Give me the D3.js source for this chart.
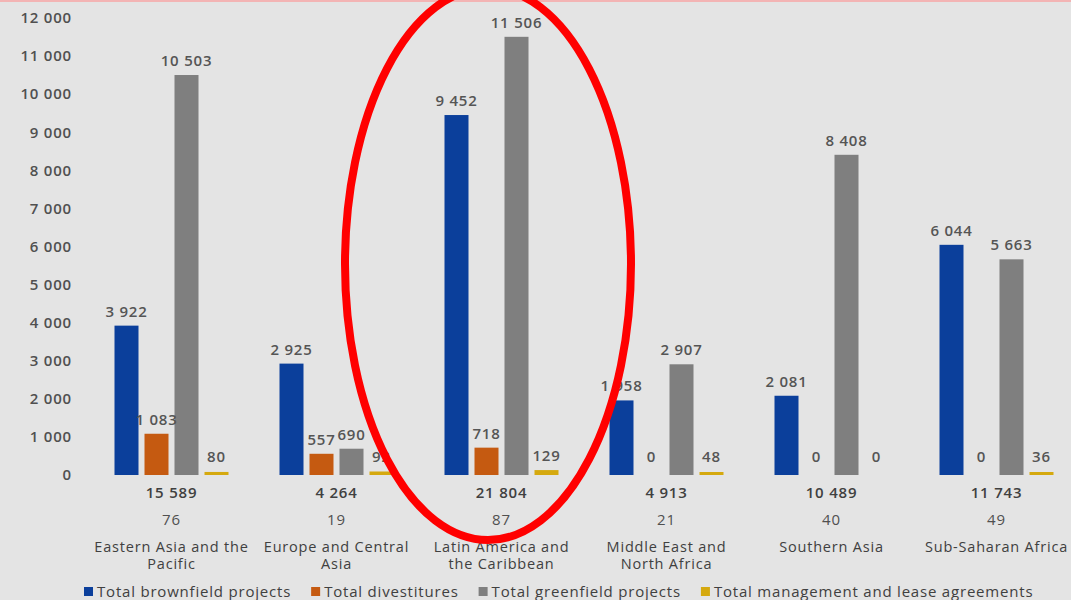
<!DOCTYPE html>
<html>
<head>
<meta charset="utf-8">
<script src="https://cdn.jsdelivr.net/npm/d3@7"></script>
<style>
  html, body { margin: 0; padding: 0; background: #e4e4e4; }
  svg { display: block; font-family: "Open Sans", sans-serif; letter-spacing: 0.8px; }
</style>
</head>
<body>
<div id="chart"></div>
<script>
// Data
const regions = [
  ["Eastern Asia and the", "Pacific"],
  ["Europe and Central", "Asia"],
  ["Latin America and", "the Caribbean"],
  ["Middle East and", "North Africa"],
  ["Southern Asia"],
  ["Sub-Saharan Africa"]
];
const seriesNames = [
  "Total brownfield projects",
  "Total divestitures",
  "Total greenfield projects",
  "Total management and lease agreements"
];
const brownfield = [3922, 2925, 9452, 1958, 2081, 6044];
const divestitures = [1083, 557, 718, 0, 0, 0];
const greenfield = [10503, 690, 11506, 2907, 8408, 5663];
const management = [80, 92, 129, 48, 0, 36];
const totals = [15589, 4264, 21804, 4913, 10489, 11743];
const counts = [76, 19, 87, 21, 40, 49];
const yTicks = [0, 1000, 2000, 3000, 4000, 5000, 6000, 7000, 8000, 9000, 10000, 11000, 12000];

const colors = ["#0b3f9b", "#c55a11", "#7f7f7f", "#d5a90f"];

const width = 1071;
const height = 600;
const marginLeft = 89;
const marginRight = -8;
const yBase = 475;
const yTop = 18;

const fmtSp = v => d3.format(",d")(v).replace(/,/g, " ");

const rows = regions.map((r, i) => ({
  key: i,
  lines: r,
  values: [brownfield[i], divestitures[i], greenfield[i], management[i]]
}));

const x0 = d3.scaleBand(d3.range(regions.length), [marginLeft, width - marginRight]);
const x1 = d3.scaleBand(d3.range(seriesNames.length), [0, 120]).paddingInner(0.2).paddingOuter(0.1);
const y = d3.scaleLinear([0, 12000], [yBase, yTop]);

const svg = d3.create("svg")
  .attr("width", width)
  .attr("height", height)
  .attr("viewBox", [0, 0, width, height]);

d3.select("#chart").append(() => svg.node());

svg.append("rect").attr("width", width).attr("height", height).attr("fill", "#e4e4e4");
// faint pink strip at top edge of the photo
svg.append("rect").attr("width", width).attr("height", 2).attr("fill", "#f3b4b4");

// y axis labels only
svg.append("g")
  .attr("transform", "translate(72,0)")
  .call(d3.axisLeft(y).tickValues(yTicks).tickSize(0).tickPadding(0).tickFormat(fmtSp))
  .call(g => g.select(".domain").remove())
  .call(g => g.selectAll("text")
    .attr("fill", "#505050")
    .attr("font-size", 15)
    .attr("font-weight", 600)
    .attr("font-family", "Open Sans, sans-serif"));

const groupOffset = (x0.bandwidth() - 120) / 2;

const group = svg.append("g").selectAll("g")
  .data(rows)
  .join("g")
  .attr("transform", d => `translate(${x0(d.key) + groupOffset},0)`);

group.selectAll("rect")
  .data(d => d.values.map((v, j) => ({j, v})))
  .join("rect")
  .attr("x", d => x1(d.j))
  .attr("y", d => d.j === 3 ? Math.min(y(d.v), yBase - 3) : y(d.v))
  .attr("width", x1.bandwidth())
  .attr("height", d => d.j === 3 ? Math.max(yBase - y(d.v), d.v > 0 ? 3 : 0) : yBase - y(d.v))
  .attr("fill", d => colors[d.j]);

group.selectAll("text.val")
  .data(d => d.values.map((v, j) => ({j, v})))
  .join("text")
  .attr("class", "val")
  .attr("x", d => x1(d.j) + x1.bandwidth() / 2)
  .attr("y", d => Math.min(y(d.v), yBase - 4) - 9)
  .attr("text-anchor", "middle")
  .attr("font-size", 15)
  .attr("font-weight", 600)
  .attr("fill", "#555")
  .text(d => fmtSp(d.v));

// totals and counts under the groups
const cx = i => x0(i) + x0.bandwidth() / 2;

svg.append("g").selectAll("text")
  .data(totals)
  .join("text")
  .attr("x", (d, i) => cx(i))
  .attr("y", 498)
  .attr("text-anchor", "middle")
  .attr("font-size", 15)
  .attr("font-weight", 600)
  .attr("fill", "#404040")
  .text(d => fmtSp(d));

svg.append("g").selectAll("text")
  .data(counts)
  .join("text")
  .attr("x", (d, i) => cx(i))
  .attr("y", 525)
  .attr("text-anchor", "middle")
  .attr("font-size", 15)
  .attr("fill", "#505050")
  .text(d => d);

svg.append("g").selectAll("text")
  .data(rows)
  .join("text")
  .attr("x", d => cx(d.key))
  .attr("y", 552)
  .attr("text-anchor", "middle")
  .attr("font-size", 14.5)
  .attr("fill", "#404040")
  .selectAll("tspan")
  .data(d => d.lines)
  .join("tspan")
  .attr("x", function() { return this.parentNode.getAttribute("x"); })
  .attr("dy", (d, i) => i === 0 ? 0 : 17)
  .text(d => d);

// legend
const legend = svg.append("g").attr("transform", "translate(84,597)");
let lx = 0;
seriesNames.forEach((name, i) => {
  const item = legend.append("g").attr("transform", `translate(${lx},0)`);
  item.append("rect").attr("x", 0).attr("y", -10).attr("width", 9).attr("height", 9).attr("fill", colors[i]);
  const t = item.append("text")
    .attr("x", 13)
    .attr("y", 0)
    .attr("font-size", 15)
    .attr("fill", "#404040")
    .text(name);
  lx += 13 + t.node().getComputedTextLength() + 20;
});

// red hand-drawn ellipse annotation
svg.append("ellipse")
  .attr("cx", 488)
  .attr("cy", 264)
  .attr("rx", 143)
  .attr("ry", 276)
  .attr("fill", "none")
  .attr("stroke", "#ff0000")
  .attr("stroke-width", 8);
</script>
</body>
</html>
